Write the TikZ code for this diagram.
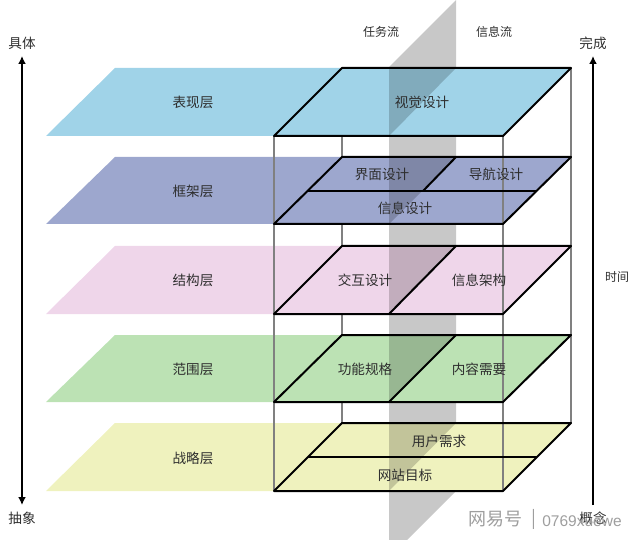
\documentclass[tikz,border=0pt]{standalone}
\usepackage{fontspec}
\setmainfont{Noto Sans CJK SC}
\newfontfamily\latinwm{Liberation Sans}
\usetikzlibrary{arrows.meta}
\definecolor{lblue}{HTML}{A0D3E8}
\definecolor{lperi}{HTML}{9DA7CE}
\definecolor{lpink}{HTML}{EFD6EA}
\definecolor{lgreen}{HTML}{BCE2B4}
\definecolor{lyellow}{HTML}{EFF2BE}
\definecolor{plane}{HTML}{C8C8C8}
\definecolor{txt}{HTML}{2E2E2E}
\tikzset{
  x=1pt,y=-1pt,
  edgeb/.style={draw=black,line width=2pt,line join=round},
  edgeg/.style={draw=black!50,line width=2pt},
  shade/.style={fill=black,fill opacity=.19},
  lab/.style={font=\fontsize{13.6}{15}\selectfont,text=txt,inner sep=0pt},
  labs/.style={font=\fontsize{12}{14}\selectfont,text=txt,inner sep=0pt},
  axis/.style={draw=black,line width=2pt},
  wm/.style={text=black!38,inner sep=0pt},
}
\begin{document}
\begin{tikzpicture}
\useasboundingbox (0,0) rectangle (640,540);
% flow plane
\fill[plane] (456,0) -- (389,67) -- (389,540) -- (407,540) -- (456,491) -- cycle;
% back verticals
\draw[edgeg] (342,136) -- (342,423);
\draw[edgeg] (571,68) -- (571,423);
% layer fills
\fill[lblue] (46,136) -- (115,68) -- (571,68) -- (503,136) -- cycle;
\fill[lperi] (46,224) -- (115,157) -- (571,157) -- (503,224) -- cycle;
\fill[lpink] (46,314) -- (115,246) -- (571,246) -- (503,314) -- cycle;
\fill[lgreen] (46,402) -- (115,335) -- (571,335) -- (503,402) -- cycle;
\fill[lyellow] (46,491) -- (115,423) -- (571,423) -- (503,491) -- cycle;
% plane seen behind the front half
\fill[shade] (389,68) -- (456,68) -- (389,136) -- cycle;
\fill[shade] (389,157) -- (456,157) -- (389,224) -- cycle;
\fill[shade] (389,246) -- (456,246) -- (389,314) -- cycle;
\fill[shade] (389,335) -- (456,335) -- (389,402) -- cycle;
\fill[shade] (389,423) -- (456,423) -- (389,491) -- cycle;
% front verticals
\draw[edgeg] (274,136) -- (274,491);
\draw[edgeg] (503,136) -- (503,491);
% outlines
\draw[edgeb] (274,136) -- (342,68) -- (571,68) -- (503,136) -- cycle;
\draw[edgeb] (274,224) -- (342,157) -- (571,157) -- (503,224) -- cycle;
\draw[edgeb] (308,191) -- (537,191);
\draw[edgeb] (456,157) -- (423,191);
\draw[edgeb] (274,314) -- (342,246) -- (571,246) -- (503,314) -- cycle;
\draw[edgeb] (456,246) -- (389,314);
\draw[edgeb] (274,402) -- (342,335) -- (571,335) -- (503,402) -- cycle;
\draw[edgeb] (456,335) -- (389,402);
\draw[edgeb] (274,491) -- (342,423) -- (571,423) -- (503,491) -- cycle;
\draw[edgeb] (308,457) -- (537,457);
% labels
\node[lab] (l1) at (193,102) {表现层};
\node[lab] (l2) at (193,191) {框架层};
\node[lab] (l3) at (193,280) {结构层};
\node[lab] (l4) at (193,369) {范围层};
\node[lab] (l5) at (193,458) {战略层};
\node[lab] (a1) at (422,102) {视觉设计};
\node[lab] (a2) at (382,174) {界面设计};
\node[lab] (a3) at (496,174) {导航设计};
\node[lab] (a4) at (405,208) {信息设计};
\node[lab] (a5) at (365,280) {交互设计};
\node[lab] (a6) at (479,280) {信息架构};
\node[lab] (a7) at (365,369) {功能规格};
\node[lab] (a8) at (479,369) {内容需要};
\node[lab] (a9) at (439,441) {用户需求};
\node[lab] (a10) at (405,475) {网站目标};
\node[labs] (f1) at (381,32) {任务流};
\node[labs] (f2) at (494,32) {信息流};
\node[lab] (tl) at (22,43) {具体};
\node[lab] (bl) at (22,518) {抽象};
\node[lab] (tr) at (593,43) {完成};
\node[lab] (br) at (593,518) {概念};
\node[labs] (tm) at (617,277) {时间};
% axes
\coordinate (ltop) at (22,56);
\coordinate (lbot) at (22,505);
\coordinate (rtop) at (593,56);
\coordinate (rbot) at (593,505);
\draw[axis,{Latex[length=8pt,width=8pt]}-{Latex[length=8pt,width=8pt]}] (ltop) -- (lbot);
\draw[axis,-{Latex[length=8pt,width=8pt]}] (rbot) -- (rtop);
% watermark
\node[wm,font=\fontsize{18}{20}\selectfont] (w1) at (495,519) {网易号};
\node[wm,font=\fontsize{18}{20}\selectfont] (w2) at (534,519) {|};
\node[wm,font=\latinwm\fontsize{15.5}{17}\selectfont] (w3) at (582,521) {0769xuewe};
\end{tikzpicture}
\end{document}
